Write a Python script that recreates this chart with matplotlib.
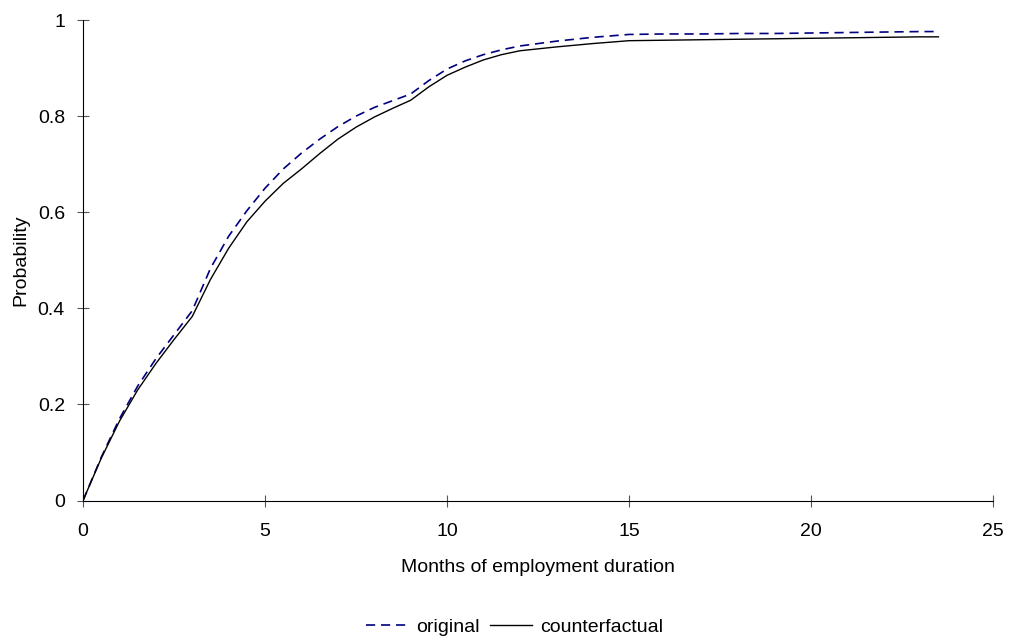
import numpy as np
from matplotlib import pyplot as plt

plt.rcParams['font.family'] = ['Liberation Sans', 'DejaVu Sans']

months = [0, 0.5, 1, 1.5, 2, 2.5, 3, 3.5, 4, 4.5, 5, 5.5, 6, 6.5, 7, 7.5, 8, 8.5,
          9, 9.5, 10, 10.5, 11, 11.5, 12, 13, 14, 15, 16, 17, 18, 19, 20, 21, 22, 23, 23.5]
original = [0, 0.09, 0.17, 0.238, 0.295, 0.345, 0.395, 0.483, 0.55, 0.603, 0.65, 0.69,
            0.723, 0.752, 0.778, 0.8, 0.818, 0.832, 0.846, 0.874, 0.898, 0.915, 0.928,
            0.938, 0.946, 0.956, 0.964, 0.970, 0.971, 0.971, 0.972, 0.972, 0.973, 0.974,
            0.975, 0.976, 0.976]
counterfactual = [0, 0.088, 0.165, 0.23, 0.285, 0.335, 0.383, 0.46, 0.525, 0.58, 0.623,
                  0.66, 0.69, 0.722, 0.752, 0.777, 0.798, 0.816, 0.833, 0.861, 0.885,
                  0.902, 0.917, 0.928, 0.936, 0.944, 0.951, 0.957, 0.958, 0.959, 0.960,
                  0.961, 0.962, 0.963, 0.964, 0.965, 0.965]

fig = plt.figure(figsize=(10.09, 6.42), dpi=100)
ax = fig.add_axes([0.0823, 0.2204, 0.9019, 0.7484])
ax.plot(months, original, color='#000080', linestyle=(0, (5.5, 3.5)), linewidth=1.2, label='original')
ax.plot(months, counterfactual, color='black', linewidth=1.0, label='counterfactual')

ax.set_xlim(0, 25)
ax.set_ylim(0, 1)
ax.set_xticks([0, 5, 10, 15, 20, 25])
ax.set_yticks([0, 0.2, 0.4, 0.6, 0.8, 1])
ax.set_yticklabels(['0', '0.2', '0.4', '0.6', '0.8', '1'])
ax.spines['top'].set_visible(False)
ax.spines['right'].set_visible(False)
ax.tick_params(direction='inout', length=8, labelsize=14, color='#555555')
ax.tick_params(axis='x', pad=12)
ax.tick_params(axis='y', pad=9)
ax.set_xlabel('Months of employment duration', fontsize=14, labelpad=14)
ax.set_ylabel('Probability', fontsize=14, labelpad=6)

fig.legend(loc='center', bbox_to_anchor=(0.51, 0.0234), ncol=2, frameon=False,
           fontsize=14, handlelength=2.16, columnspacing=0.5, handletextpad=0.45)

fig.savefig('out.png', dpi=100)
